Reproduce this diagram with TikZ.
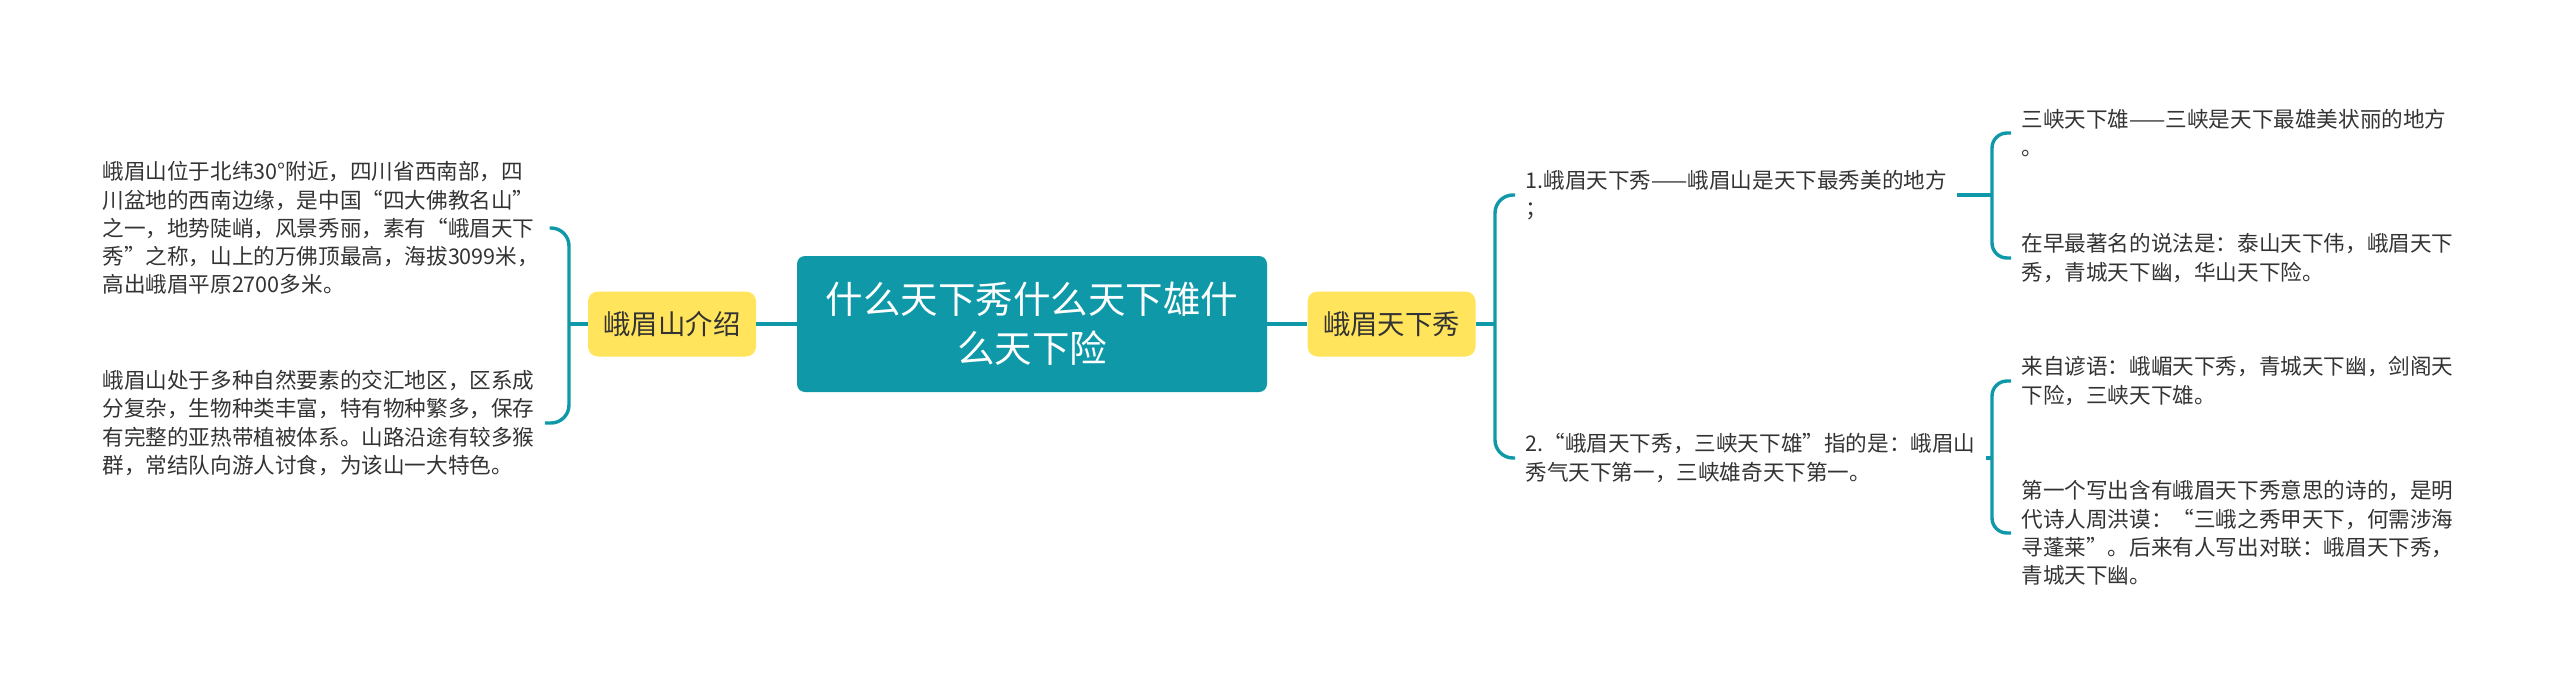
\documentclass[tikz,border=0pt]{standalone}
\usepackage{fontspec}
\newfontfamily\cjkfont{Noto Sans CJK SC}
\usepackage{tikz}
\usetikzlibrary{positioning}
\usepackage{xcolor}
\definecolor{mapteal}{RGB}{14,152,168}
\definecolor{mapyellow}{RGB}{255,228,92}
\definecolor{inktext}{RGB}{51,51,51}

\begin{document}
\begin{tikzpicture}[x=0.5pt, y=-0.5pt,
  root/.style={fill=mapteal, rounded corners=4pt, text=white, align=center, minimum width=235pt, minimum height=68pt, font=\cjkfont\fontsize{18.75pt}{24.5pt}\selectfont},
  topic/.style={fill=mapyellow, rounded corners=5pt, text=inktext, minimum width=84pt, minimum height=32.5pt, font=\cjkfont\fontsize{13.7pt}{16pt}\selectfont},
  leaf/.style={text=inktext, align=left, inner xsep=5pt, inner ysep=0pt, font=\cjkfont\fontsize{10.8pt}{14.1pt}\selectfont},
  link/.style={draw=mapteal, line width=1.7pt},
  brace/.style={link, rounded corners=9pt}]
  \useasboundingbox (0,0) rectangle (2560,691);
  % centre and the two topics
  \node[root] (title) at (1032,324) {什么天下秀什么天下雄什\\么天下险};
  \node[topic] (intro) at (672,324) {峨眉山介绍};
  \node[topic] (xiu) at (1391.5,324) {峨眉天下秀};
  \draw[link] (title) -- (intro);
  \draw[link] (title) -- (xiu);
  % left branch
  \node[leaf, anchor=west] (loc) at (92,228) {峨眉山位于北纬30°附近，四川省西南部，四\\川盆地的西南边缘，是中国“四大佛教名山”\\之一，地势陡峭，风景秀丽，素有“峨眉天下\\秀”之称，山上的万佛顶最高，海拔3099米，\\高出峨眉平原2700多米。};
  \node[leaf, anchor=west] (eco) at (92,423) {峨眉山处于多种自然要素的交汇地区，区系成\\分复杂，生物种类丰富，特有物种繁多，保存\\有完整的亚热带植被体系。山路沿途有较多猴\\群，常结队向游人讨食，为该山一大特色。};
  \coordinate (lj) at (569,324);
  \draw[link] (intro) -- (lj);
  \draw[brace] (lj) |- (loc.east);
  \draw[brace] (lj) |- (eco.east);
  % right branch
  \node[leaf, anchor=west] (r1) at (1515,195) {1.峨眉天下秀——峨眉山是天下最秀美的地方\\；};
  \node[leaf, anchor=west] (r2) at (1515,458) {2.“峨眉天下秀，三峡天下雄”指的是：峨眉山\\秀气天下第一，三峡雄奇天下第一。};
  \coordinate (rj) at (1495,324);
  \draw[link] (xiu) -- (rj);
  \draw[brace] (rj) |- (r1.west);
  \draw[brace] (rj) |- (r2.west);
  % third level
  \node[leaf, anchor=west] (a1) at (2011,133) {三峡天下雄——三峡是天下最雄美状丽的地方\\。};
  \node[leaf, anchor=west] (a2) at (2011,258) {在早最著名的说法是：泰山天下伟，峨眉天下\\秀，青城天下幽，华山天下险。};
  \node[leaf, anchor=west] (b1) at (2011,381) {来自谚语：峨嵋天下秀，青城天下幽，剑阁天\\下险，三峡天下雄。};
  \node[leaf, anchor=west] (b2) at (2011,533) {第一个写出含有峨眉天下秀意思的诗的，是明\\代诗人周洪谟：“三峨之秀甲天下，何需涉海\\寻蓬莱”。后来有人写出对联：峨眉天下秀，\\青城天下幽。};
  \coordinate (j1) at (1992,195);
  \coordinate (j2) at (1992,458);
  \draw[link] (r1.east) -- (j1);
  \draw[link] (r2.east) -- (j2);
  \draw[brace, rounded corners=7.5pt] (j1) |- (a1.west);
  \draw[brace, rounded corners=7.5pt] (j1) |- (a2.west);
  \draw[brace, rounded corners=7.5pt] (j2) |- (b1.west);
  \draw[brace, rounded corners=7.5pt] (j2) |- (b2.west);
\end{tikzpicture}
\end{document}
